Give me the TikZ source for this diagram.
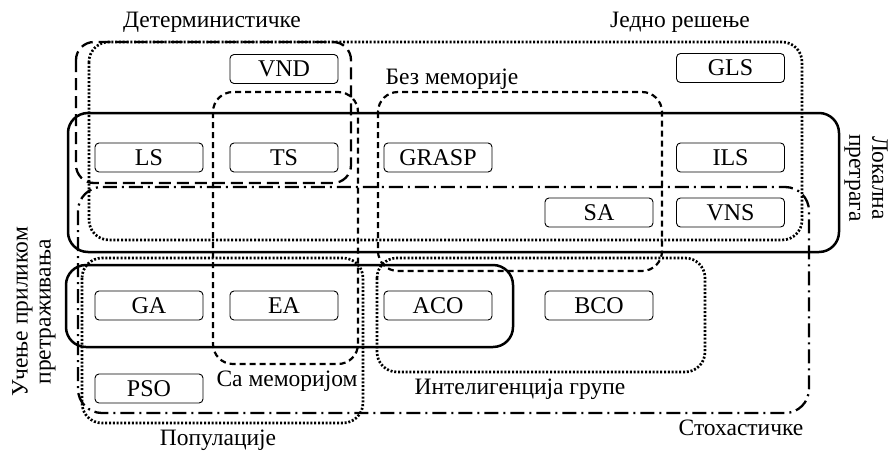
\documentclass[tikz,border=0pt]{standalone}
\usepackage{fontspec}
\setmainfont{Liberation Serif}
\begin{document}
\begin{tikzpicture}[x=1pt,y=-1pt,
  algo/.style={draw, line width=0.9pt, rounded corners=4pt, fill=white,
    minimum width=108pt, minimum height=29pt, inner sep=0pt, font=\fontsize{24}{26}\selectfont},
  grplabel/.style={font=\fontsize{23.5}{26}\selectfont, inner sep=0pt},
  sidelabel/.style={font=\fontsize{23.5}{23}\selectfont, inner sep=0pt, align=center},
  setsolid/.style={line width=2.5pt, rounded corners=20pt},
  setdot/.style={line width=2.7pt, dash pattern=on 2pt off 1.8pt, rounded corners=20pt},
  setlongdash/.style={line width=2.3pt, dash pattern=on 12pt off 6pt, rounded corners=18pt},
  setshortdash/.style={line width=2.2pt, dash pattern=on 6pt off 4pt, rounded corners=20pt},
  setdashdot/.style={line width=2.3pt, dash pattern=on 14pt off 5pt on 2pt off 5pt, rounded corners=24pt}]
\useasboundingbox (0,0) rectangle (890,450);

% set outlines
\draw[setlongdash]  (76,42)   rectangle (351,183);  % deterministic
\draw[setdot]       (89,42)   rectangle (802,240);  % single solution
\draw[setsolid]     (68,113)  rectangle (839,252);  % local search
\draw[setshortdash] (378,92)  rectangle (662,271);  % memoryless
\draw[setshortdash] (213,92)  rectangle (358,364);  % with memory
\draw[setdashdot]   (78,187)  rectangle (809,413);  % stochastic
\draw[setsolid]     (66,265)  rectangle (513,347);  % learning while searching
\draw[setdot]       (82,258)  rectangle (363,423);  % population
\draw[setdot]       (377,258) rectangle (705,372);  % swarm intelligence

% set labels
\node[grplabel] (lDet)  at (212,22)  {Детерминистичке};
\node[grplabel] (lOne)  at (680,22)  {Једно решење};
\node[grplabel] (lNoM)  at (452,79)  {Без меморије};
\node[grplabel] (lMem)  at (287,381) {Са меморијом};
\node[grplabel] (lSw)   at (520,389) {Интелигенција групе};
\node[grplabel] (lSto)  at (741,428) {Стохастичке};
\node[grplabel] (lPop)  at (218,440) {Популације};
\node[sidelabel, rotate=-90] (lLoc) at (866,178) {Локална\\претрага};
\node[sidelabel, rotate=90]  (lLrn) at (34,312)  {Учење приликом\\претраживања};

% algorithms
\node[algo] (vnd)   at (284,69)    {VND};
\node[algo] (gls)   at (730.5,68)  {GLS};
\node[algo] (ls)    at (149,157.5) {LS};
\node[algo] (ts)    at (284,157.5) {TS};
\node[algo] (grasp) at (438,157.5) {GRASP};
\node[algo] (ils)   at (730.5,157.5) {ILS};
\node[algo] (sa)    at (599,212.5) {SA};
\node[algo] (vns)   at (730.5,212.5) {VNS};
\node[algo] (ga)    at (149,305.5) {GA};
\node[algo] (ea)    at (284,305.5) {EA};
\node[algo] (aco)   at (438,305.5) {ACO};
\node[algo] (bco)   at (599,305.5) {BCO};
\node[algo] (pso)   at (149,388.5) {PSO};
\end{tikzpicture}
\end{document}
